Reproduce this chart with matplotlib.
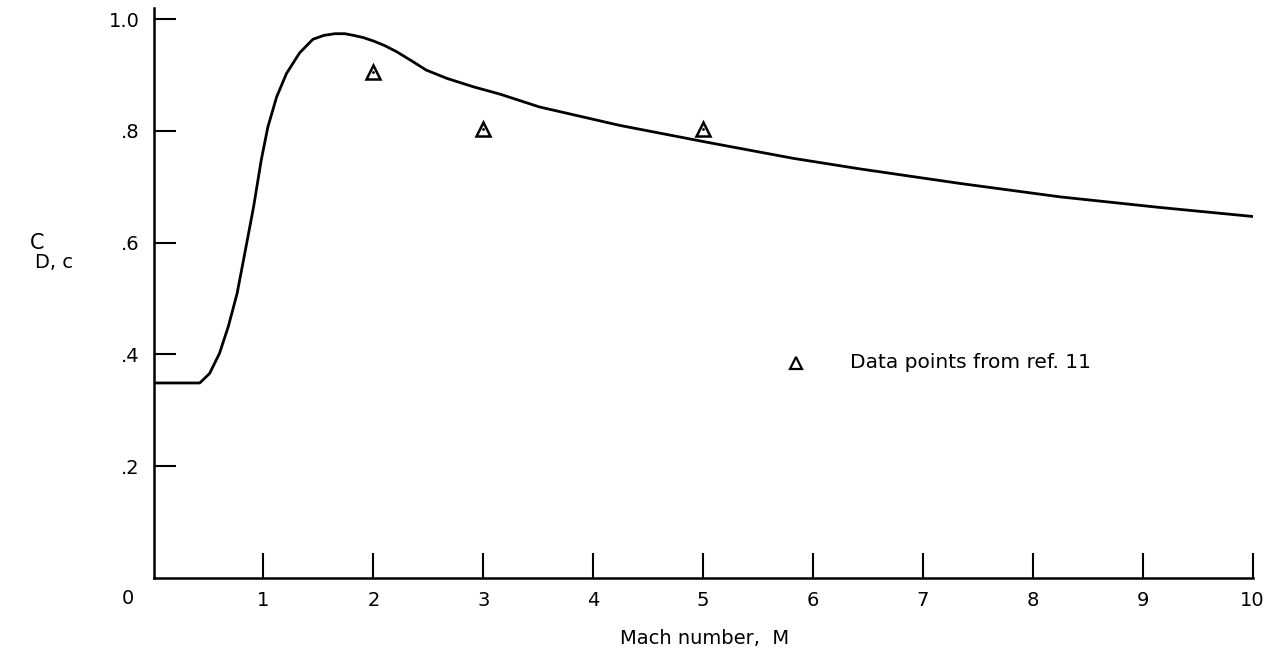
import matplotlib.pyplot as plt
import numpy as np

plt.rcParams['font.family'] = ['DejaVu Sans']

# curve
mach = [0.0, 0.42, 0.51, 0.60, 0.68, 0.76, 0.83, 0.91, 0.98, 1.04, 1.12, 1.21,
        1.33, 1.45, 1.55, 1.65, 1.74, 1.82, 1.91, 2.00, 2.10, 2.21, 2.36, 2.48,
        2.67, 2.91, 3.15, 3.51, 4.24, 5.03, 5.82, 6.43, 7.34, 8.25, 9.16, 10.0]
cd = [0.349, 0.349, 0.366, 0.402, 0.450, 0.509, 0.581, 0.664, 0.748, 0.807,
      0.861, 0.903, 0.940, 0.964, 0.971, 0.974, 0.974, 0.971, 0.967, 0.961,
      0.953, 0.942, 0.924, 0.909, 0.894, 0.879, 0.866, 0.843, 0.810, 0.780,
      0.751, 0.732, 0.706, 0.682, 0.663, 0.647]

# data points from ref. 11
ref_mach = [2.0, 3.0, 5.0]
ref_cd = [0.906, 0.804, 0.804]

xticks = [1, 2, 3, 4, 5, 6, 7, 8, 9, 10]
yticks = [0.2, 0.4, 0.6, 0.8, 1.0]
ylabels = ['.2', '.4', '.6', '.8', '1.0']

fig = plt.figure(figsize=(12.67, 6.56), dpi=100)
ax = fig.add_axes([0.1212, 0.1189, 0.8674, 0.8689])

ax.plot(mach, cd, color='black', lw=2.0, solid_joinstyle='round')
ax.plot(ref_mach, ref_cd, '^', ms=10, mfc='none', mec='black', mew=1.8)
ax.plot(ref_mach, ref_cd, '.', ms=2, color='black')

# key
ax.plot([5.85], [0.385], '^', ms=9, mfc='none', mec='black', mew=1.6)
ax.text(6.34, 0.385, 'Data points from ref. 11', fontsize=14.5, va='center', ha='left')

ax.set_xlim(0, 10)
ax.set_ylim(0, 1.02)
ax.set_xticks(xticks)
ax.set_xticklabels([str(t) for t in xticks], fontsize=14)
ax.set_yticks(yticks)
ax.set_yticklabels(ylabels, fontsize=14)
ax.tick_params(axis='x', direction='in', length=18, width=1.5, pad=9)
ax.tick_params(axis='y', direction='in', length=16, width=1.5, pad=10)
ax.spines['top'].set_visible(False)
ax.spines['right'].set_visible(False)
for s in ['left', 'bottom']:
    ax.spines[s].set_linewidth(1.8)

fig.text(128 / 1267, 1 - 598 / 656, '0', fontsize=14, ha='center', va='center')
fig.text(705 / 1267, 1 - 638 / 656, 'Mach number,  M', fontsize=14, ha='center', va='center')
fig.text(37 / 1267, 1 - 243 / 656, 'C', fontsize=15, ha='center', va='center')
fig.text(54 / 1267, 1 - 263 / 656, 'D, c', fontsize=14, ha='center', va='center')

fig.savefig('out.png', dpi=100)
